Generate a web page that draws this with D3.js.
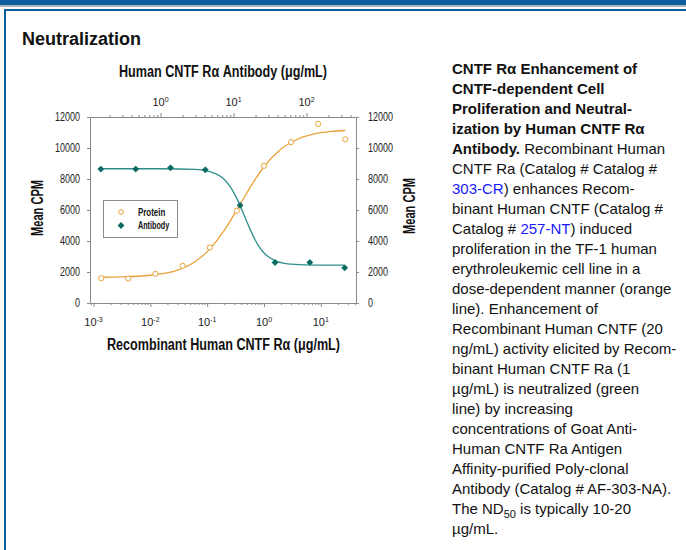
<!DOCTYPE html>
<html>
<head>
<meta charset="utf-8">
<script src="https://cdn.jsdelivr.net/npm/d3@7/dist/d3.min.js"></script>
<style>
  body { margin: 0; background: #fff; }
  .cond { font-family: "Liberation Sans", Arial, sans-serif; }
  .para { font-family: "Liberation Sans", Arial, sans-serif; font-size: 15px; fill: #111; }
</style>
</head>
<body>
<svg id="chart" width="686" height="550"></svg>
<script>
// Protein series (bottom axis, Recombinant Human CNTF Ra, ug/mL)
const proteinDose = [0.00137, 0.0041, 0.0123, 0.037, 0.111, 0.333, 1, 3, 9, 27];
const proteinCpm = [1600, 1580, 1880, 2400, 3580, 5950, 8850, 10380, 11560, 10560];

// Antibody series (top axis, Human CNTF Ra Antibody, ug/mL)
const antibodyDose = [0.152, 0.457, 1.37, 4.1, 12.3, 37, 111, 333];
const antibodyCpm = [8640, 8640, 8720, 8590, 6300, 2610, 2620, 2270];

// fitted curves
const proteinFitDose = [0.00137, 0.003, 0.01, 0.03, 0.06, 0.1, 0.2, 0.4, 0.7, 1, 2, 4, 8, 15, 27];
const proteinFitCpm = [1660, 1680, 1790, 2120, 2650, 3300, 4680, 6500, 7970, 8790, 9940, 10580, 10920, 11060, 11130];
const antibodyFitDose = [0.152, 1, 3, 5, 7, 9, 11, 13, 15, 18, 22, 27, 35, 50, 80, 150, 333];
const antibodyFitCpm = [8660, 8660, 8620, 8450, 8090, 7510, 6780, 6020, 5310, 4460, 3690, 3160, 2790, 2550, 2470, 2445, 2440];

const yTicks = [0, 2000, 4000, 6000, 8000, 10000, 12000];
const bottomExponents = [-3, -2, -1, 0, 1];
const topExponents = [0, 1, 2];

const legendLabels = ["Protein", "Antibody"];

const orange = "#e9a23b";
const tealLine = "#2e8f8a";
const tealDot = "#0b6b63";
const axisGray = "#8a8a8a";

const svg = d3.select("#chart");

// page frame
svg.append("rect").attr("x", 0).attr("y", 0).attr("width", 686).attr("height", 5).attr("fill", "#0a5f9e");
svg.append("rect").attr("x", 0).attr("y", 5).attr("width", 686).attr("height", 2).attr("fill", "#b4b4b4");
svg.append("rect").attr("x", 4).attr("y", 9).attr("width", 682).attr("height", 2).attr("fill", "#0a5f9e");
svg.append("rect").attr("x", 4).attr("y", 9).attr("width", 2).attr("height", 541).attr("fill", "#0a5f9e");

svg.append("text")
  .attr("x", 22).attr("y", 45)
  .attr("font-family", "'Liberation Sans', Arial, sans-serif")
  .attr("font-weight", "bold").attr("font-size", 18).attr("fill", "#111")
  .text("Neutralization");

// plot area
const plotLeft = 90, plotRight = 356, plotTop = 117, plotBottom = 303;

const xBottom = d3.scaleLog([0.000867, 41.7], [plotLeft, plotRight]);
const xTop = d3.scaleLog([0.108, 476], [plotLeft, plotRight]);
const y = d3.scaleLinear([0, 12000], [plotBottom, plotTop]);

function minorTicks(scale) {
  const [d0, d1] = scale.domain();
  const out = [];
  for (let e = Math.floor(Math.log10(d0)); e <= Math.ceil(Math.log10(d1)); e++) {
    for (let m = 1; m <= 9; m++) {
      const v = m * Math.pow(10, e);
      if (v >= d0 && v <= d1) out.push(v);
    }
  }
  return out;
}

function styleAxis(g) {
  g.select(".domain").attr("stroke", axisGray);
  g.selectAll(".tick line").attr("stroke", axisGray);
  g.selectAll(".tick text").attr("fill", "#222");
  g.attr("class", "cond");
}

// left & right axes
const gl = svg.append("g").attr("transform", `translate(${plotLeft},0)`)
  .call(d3.axisLeft(y).tickValues(yTicks).tickSize(3).tickPadding(7).tickSizeOuter(0).tickFormat(d3.format("d")));
styleAxis(gl);
gl.attr("font-size", 12);
gl.selectAll(".tick text").attr("textLength", d => String(d).length * 5).attr("lengthAdjust", "spacingAndGlyphs");

const gr = svg.append("g").attr("transform", `translate(${plotRight},0)`)
  .call(d3.axisRight(y).tickValues(yTicks).tickSize(3).tickPadding(9).tickSizeOuter(0).tickFormat(d3.format("d")));
styleAxis(gr);
gr.attr("font-size", 12);
gr.selectAll(".tick text").attr("textLength", d => String(d).length * 5).attr("lengthAdjust", "spacingAndGlyphs");

// log axes with minor ticks and 10^n labels
function logAxis(axisFn, scale, yPos, exps, labelY, dir) {
  const majors = exps.map(e => Math.pow(10, e));
  const g = svg.append("g").attr("transform", `translate(0,${yPos})`)
    .call(axisFn(scale).tickValues(minorTicks(scale)).tickSizeOuter(0).tickFormat(""));
  styleAxis(g);
  g.selectAll(".tick line")
    .attr("y2", d => dir * (majors.some(m => Math.abs(m - d) / m < 1e-6) ? 4 : 2));
  g.selectAll(".tick text").remove();
  exps.forEach(e => {
    const t = g.append("text")
      .attr("x", scale(Math.pow(10, e)))
      .attr("y", labelY)
      .attr("text-anchor", "middle")
      .attr("fill", "#222")
      .attr("font-size", 11);
    t.append("tspan").text("10");
    t.append("tspan").attr("dy", -4).attr("font-size", 7).text(e);
  });
  return g;
}
logAxis(d3.axisBottom, xBottom, plotBottom, bottomExponents, 23, 1);
logAxis(d3.axisTop, xTop, plotTop, topExponents, -11, -1);

// axis titles (condensed via textLength)
svg.append("text").attr("class", "cond")
  .attr("x", 107).attr("y", 350)
  .attr("textLength", 233).attr("lengthAdjust", "spacingAndGlyphs")
  .attr("font-size", 16).attr("font-weight", "bold").attr("fill", "#111")
  .text("Recombinant Human CNTF R\u03b1 (\u03bcg/mL)");
svg.append("text").attr("class", "cond")
  .attr("x", 119).attr("y", 77)
  .attr("textLength", 208).attr("lengthAdjust", "spacingAndGlyphs")
  .attr("font-size", 16).attr("font-weight", "bold").attr("fill", "#111")
  .text("Human CNTF R\u03b1 Antibody (\u03bcg/mL)");
[[37, 208], [409, 206]].forEach(([cx, cy]) => {
  svg.append("text").attr("class", "cond")
    .attr("transform", `translate(${cx},${cy}) rotate(-90)`)
    .attr("x", -28).attr("dy", "0.35em")
    .attr("textLength", 56).attr("lengthAdjust", "spacingAndGlyphs")
    .attr("font-size", 16).attr("font-weight", "bold").attr("fill", "#111")
    .text("Mean CPM");
});

// curves
const line = d3.line().curve(d3.curveMonotoneX);
svg.append("path")
  .attr("d", line(proteinFitDose.map((d, i) => [xBottom(d), y(proteinFitCpm[i])])))
  .attr("fill", "none").attr("stroke", orange).attr("stroke-width", 1.3);
svg.append("path")
  .attr("d", line(antibodyFitDose.map((d, i) => [xTop(d), y(antibodyFitCpm[i])])))
  .attr("fill", "none").attr("stroke", tealLine).attr("stroke-width", 1.3);

// points
svg.selectAll(".prot").data(proteinDose).enter().append("circle")
  .attr("cx", d => xBottom(d))
  .attr("cy", (d, i) => y(proteinCpm[i]))
  .attr("r", 2.6)
  .attr("fill", "#fff").attr("stroke", orange).attr("stroke-width", 1);

const diamond = d3.symbol().type(d3.symbolDiamond2).size(30);
svg.selectAll(".ab").data(antibodyDose).enter().append("path")
  .attr("d", diamond)
  .attr("transform", (d, i) => `translate(${xTop(d)},${y(antibodyCpm[i])})`)
  .attr("fill", tealDot);

// legend
const lg = svg.append("g").attr("class", "cond");
lg.append("rect").attr("x", 103.5).attr("y", 200.5).attr("width", 74).attr("height", 37)
  .attr("fill", "#fff").attr("stroke", axisGray);
lg.append("circle").attr("cx", 121).attr("cy", 212).attr("r", 2.4)
  .attr("fill", "#fff").attr("stroke", orange);
lg.append("path").attr("d", diamond).attr("transform", "translate(121,225.5)").attr("fill", tealDot);
legendLabels.forEach((t, i) => {
  lg.append("text").attr("x", 138).attr("y", 215.5 + i * 13.5)
    .attr("textLength", t.length * 3.9).attr("lengthAdjust", "spacingAndGlyphs")
    .attr("font-size", 10).attr("font-weight", "bold").attr("fill", "#111").text(t);
});

// description paragraph: each line is a list of [text, style]
const paraLines = [
  [["CNTF R\u03b1 Enhancement of", "b"]],
  [["CNTF-dependent Cell", "b"]],
  [["Proliferation and Neutral-", "b"]],
  [["ization by Human CNTF R\u03b1", "b"]],
  [["Antibody.", "b"], [" Recombinant Human", ""]],
  [["CNTF Ra (Catalog # Catalog #", ""]],
  [["303-CR", "a"], [") enhances Recom-", ""]],
  [["binant Human CNTF (Catalog #", ""]],
  [["Catalog # ", ""], ["257-NT", "a"], [") induced", ""]],
  [["proliferation in the TF-1 human", ""]],
  [["erythroleukemic cell line in a", ""]],
  [["dose-dependent manner (orange", ""]],
  [["line). Enhancement of", ""]],
  [["Recombinant Human CNTF (20", ""]],
  [["ng/mL) activity elicited by Recom-", ""]],
  [["binant Human CNTF Ra (1", ""]],
  [["\u00b5g/mL) is neutralized (green", ""]],
  [["line) by increasing", ""]],
  [["concentrations of Goat Anti-", ""]],
  [["Human CNTF Ra Antigen", ""]],
  [["Affinity-purified Poly-clonal", ""]],
  [["Antibody (Catalog # AF-303-NA).", ""]],
  [["The ND", ""], ["50", "sub"], [" is typically 10-20", "up"]],
  [["\u00b5g/mL.", ""]]
];

paraLines.forEach((parts, i) => {
  const t = svg.append("text").attr("class", "para")
    .attr("x", 452).attr("y", 74 + i * 20);
  parts.forEach(([s, st]) => {
    const sp = t.append("tspan").text(s);
    if (st === "b") sp.attr("font-weight", "bold");
    if (st === "a") sp.attr("fill", "#1a1aff");
    if (st === "sub") sp.attr("font-size", 11).attr("dy", 4);
    if (st === "up") sp.attr("dy", -4);
  });
});
</script>
</body>
</html>
